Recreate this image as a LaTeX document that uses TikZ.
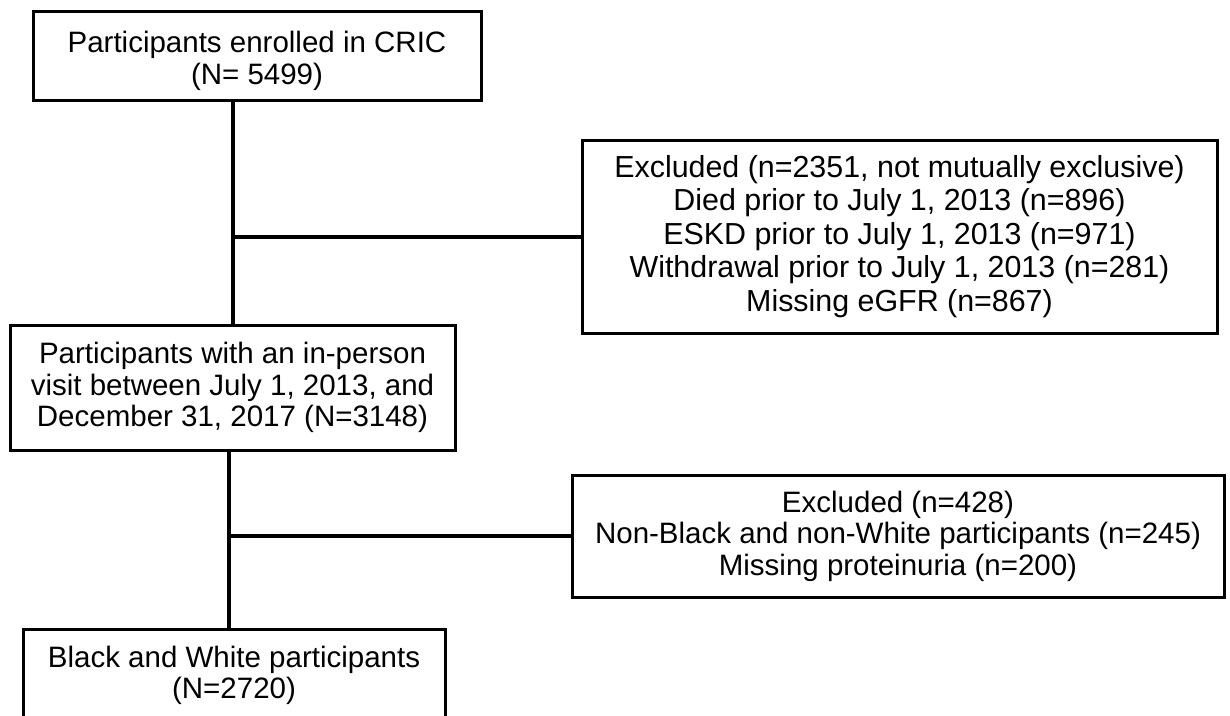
\documentclass[tikz,border=0pt]{standalone}
\usepackage{fontspec}
\setmainfont{Liberation Sans}
\usetikzlibrary{calc}
\tikzset{
  flowbox/.style={draw, line width=3pt, inner sep=0pt, align=center,
    font=\fontsize{29.5}{31.5}\selectfont},
  link/.style={line width=4pt},
}

\begin{document}
\begin{tikzpicture}[x=1pt,y=-1pt]
  \useasboundingbox (0,0) rectangle (1230,715);

  % main column
  \node[flowbox, minimum width=448, minimum height=89] (enrol) at (257,55.5)
    {\rule{0pt}{32pt}Participants enrolled in CRIC\\(N= 5499)};
  \node[flowbox, minimum width=445, minimum height=125] (visit) at (232.5,387.5)
    {Participants with an in-person\\visit between July 1, 2013, and\\December 31, 2017 (N=3148)};
  \node[flowbox, minimum width=422, minimum height=92, anchor=north] (race) at (234,628)
    {Black and White participants\\(N=2720)};

  % exclusions
  \node[flowbox, minimum width=635, minimum height=193,
    font=\fontsize{30.4}{33.5}\selectfont] (excla) at (899.5,236.5)
    {Excluded (n=2351, not mutually exclusive)\\Died prior to July 1, 2013 (n=896)\\ESKD prior to July 1, 2013 (n=971)\\Withdrawal prior to July 1, 2013 (n=281)\\Missing eGFR (n=867)};
  \node[flowbox, minimum width=652, minimum height=122] (exclb) at (898,536)
    {Excluded (n=428)\\Non-Black and non-White participants (n=245)\\Missing proteinuria (n=200)};

  % connectors
  \coordinate (ta) at (233,0);
  \coordinate (tb) at (229,0);
  \draw[link] (enrol.south -| ta) -- (visit.north -| ta);
  \draw[link] (ta |- excla.west) -- (excla.west);
  \draw[link] (visit.south -| tb) -- (race.north -| tb);
  \draw[link] (tb |- exclb.west) -- (exclb.west);
\end{tikzpicture}
\end{document}
